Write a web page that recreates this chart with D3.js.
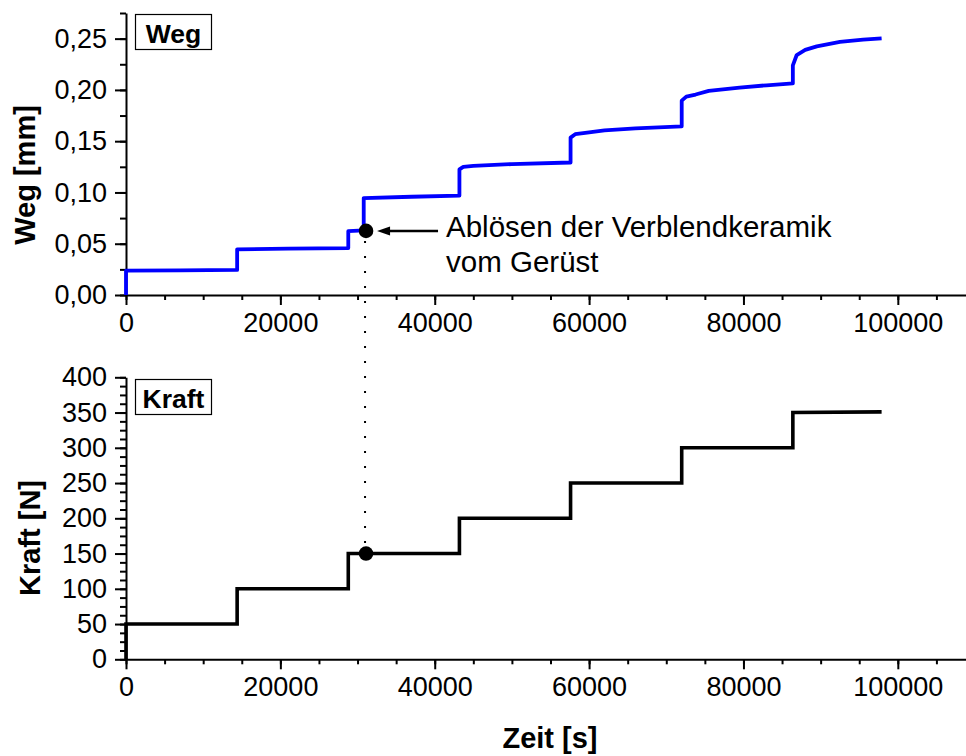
<!DOCTYPE html>
<html>
<head>
<meta charset="utf-8">
<script src="https://cdn.jsdelivr.net/npm/d3@7"></script>
<style>
  body { margin: 0; background: #fff; }
  svg { display: block; font-family: "Liberation Sans", Arial, sans-serif; }
  .axis path, .axis line { stroke: #000; stroke-width: 2; }
  .axis text { font-size: 27px; fill: #000; }
</style>
</head>
<body>
<svg width="966" height="756"></svg>
<script>
// Weg-Messung (Zeit in s, Weg in mm)
const wegZeit = [0, 0, 7000, 14400, 14400, 21000, 28800, 28800, 30800, 30800, 37000, 43200,
  43200, 43700, 45000, 50000, 57600, 57600, 58200, 59500, 62000, 66000, 72000,
  72000, 72600, 73800, 75500, 79500, 83000, 86400, 86400, 86900, 88000, 89500, 92500, 95500, 97900];
const wegWert = [0, 0.0237, 0.0240, 0.0245, 0.0445, 0.0452, 0.0458, 0.0622, 0.0630, 0.0945, 0.0958, 0.0970,
  0.1225, 0.1250, 0.1260, 0.1277, 0.1292, 0.1535, 0.1568, 0.1582, 0.1605, 0.1625, 0.1645,
  0.1895, 0.1935, 0.1955, 0.1990, 0.2022, 0.2045, 0.2063, 0.2240, 0.2340, 0.2390, 0.2425, 0.2468, 0.2490, 0.2502];

// Kraft-Stufen (Zeit in s, Kraft in N)
const kraftZeit = [0, 0, 14400, 14400, 28800, 28800, 43200, 43200, 57600, 57600, 72000, 72000, 86400, 86400, 97900];
const kraftWert = [0, 50, 50, 100, 100, 150, 150, 200, 200, 250, 250, 300, 300, 350, 351];

// Ablösen der Verblendkeramik
const ereignisZeit = 31100;
const ereignisWeg = 0.0625;
const ereignisKraft = 150;

const xTicks = [0, 20000, 40000, 60000, 80000, 100000];
const wegTicks = [0, 0.05, 0.10, 0.15, 0.20, 0.25];
const kraftTicks = [0, 50, 100, 150, 200, 250, 300, 350, 400];

const svg = d3.select("svg");

const x = d3.scaleLinear().domain([0, 110000]).range([126, 975]);
const yWeg = d3.scaleLinear().domain([0, 0.275]).range([295, 13]);
const yKraft = d3.scaleLinear().domain([0, 400]).range([659.3, 377.3]);

const komma = d3.formatLocale({ decimal: ",", thousands: "", grouping: [3], currency: ["", ""] });

function achsen(y, yTicks, yMinor, yFormat) {
    const y0 = y.range()[0];
    // Nebenstriche
    svg.append("g").attr("class", "axis")
        .attr("transform", "translate(0," + y0 + ")")
        .call(d3.axisBottom(x).tickValues(d3.range(0, 110001, 5000)).tickSize(5).tickFormat(""))
        .select(".domain").remove();
    svg.append("g").attr("class", "axis")
        .attr("transform", "translate(126,0)")
        .call(d3.axisLeft(y).tickValues(yMinor).tickSize(6).tickFormat(""))
        .select(".domain").remove();
    // Hauptstriche
    svg.append("g").attr("class", "axis")
        .attr("transform", "translate(0," + y0 + ")")
        .call(d3.axisBottom(x).tickValues(xTicks).tickSize(10).tickSizeOuter(0).tickPadding(8).tickFormat(d3.format("d")));
    svg.append("g").attr("class", "axis")
        .attr("transform", "translate(126,0)")
        .call(d3.axisLeft(y).tickValues(yTicks).tickSize(11).tickSizeOuter(0).tickPadding(8).tickFormat(yFormat));
}

achsen(yWeg, wegTicks, d3.range(0, 0.2751, 0.025), komma.format(".2f"));
achsen(yKraft, kraftTicks, d3.range(0, 400.1, 12.5), d3.format("d"));

// Kurven
const wegDaten = wegZeit.map((t, i) => [t, wegWert[i]]);
const kraftDaten = kraftZeit.map((t, i) => [t, kraftWert[i]]);

svg.append("path").datum(wegDaten)
    .attr("fill", "none").attr("stroke", "#0000ff").attr("stroke-width", 3.8)
    .attr("stroke-linejoin", "round")
    .attr("d", d3.line().x(d => x(d[0])).y(d => yWeg(d[1])));

svg.append("path").datum(kraftDaten)
    .attr("fill", "none").attr("stroke", "#000").attr("stroke-width", 3.6)
    .attr("d", d3.line().x(d => x(d[0])).y(d => yKraft(d[1])));

// gepunktete Verbindung
const ex = x(ereignisZeit);
svg.append("line")
    .attr("x1", ex - 1).attr("x2", ex - 1)
    .attr("y1", yWeg(ereignisWeg) + 10).attr("y2", yKraft(ereignisKraft) - 8)
    .attr("stroke", "#000").attr("stroke-width", 2).attr("stroke-dasharray", "2,13");

svg.selectAll("circle.ereignis")
    .data([yWeg(ereignisWeg), yKraft(ereignisKraft)])
    .enter().append("circle")
    .attr("class", "ereignis")
    .attr("cx", ex).attr("cy", d => d).attr("r", 7.3).attr("fill", "#000");

// Pfeil und Beschriftung
const ey = yWeg(ereignisWeg);
svg.append("line")
    .attr("x1", ex + 22).attr("x2", ex + 72).attr("y1", ey).attr("y2", ey)
    .attr("stroke", "#000").attr("stroke-width", 2.5);
svg.append("path")
    .attr("d", "M" + (ex + 11) + "," + ey + "L" + (ex + 24) + "," + (ey - 4.5) + "L" + (ex + 24) + "," + (ey + 4.5) + "Z")
    .attr("fill", "#000");

const notiz = svg.append("text").attr("font-size", 29.5).attr("fill", "#000");
notiz.append("tspan").attr("x", ex + 80).attr("y", ey + 6).text("Ablösen der Verblendkeramik");
notiz.append("tspan").attr("x", ex + 80).attr("y", ey + 41).text("vom Gerüst");

// Kästchen
function kasten(y, titel) {
    svg.append("rect").attr("x", 135.5).attr("y", y + 0.5).attr("width", 76).attr("height", 35)
        .attr("fill", "#fff").attr("stroke", "#000").attr("stroke-width", 1.2);
    svg.append("text").attr("x", 173.5).attr("y", y + 28.5).attr("text-anchor", "middle")
        .attr("font-size", 26.5).attr("font-weight", "bold").text(titel);
}
kasten(14, "Weg");
kasten(379, "Kraft");

// Achsentitel
svg.append("text").attr("transform", "translate(35,175) rotate(-90)")
    .attr("text-anchor", "middle").attr("font-size", 29).attr("font-weight", "bold").text("Weg [mm]");
svg.append("text").attr("transform", "translate(40,538) rotate(-90)")
    .attr("text-anchor", "middle").attr("font-size", 29).attr("font-weight", "bold").text("Kraft [N]");
svg.append("text").attr("x", 550).attr("y", 748)
    .attr("text-anchor", "middle").attr("font-size", 29).attr("font-weight", "bold").text("Zeit [s]");
</script>
</body>
</html>
